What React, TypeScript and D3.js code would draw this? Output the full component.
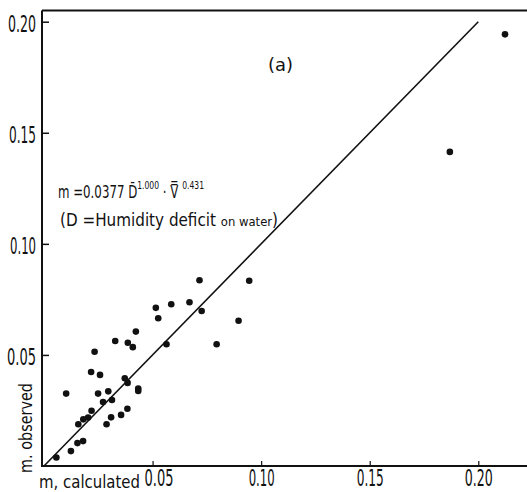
import React, { useEffect, useRef } from 'react';
import * as d3 from 'd3';

// m calculated (x) vs m observed (y)
const calculated = [
  0.2123, 0.1869, 0.0716, 0.0945, 0.0515, 0.0586, 0.0670, 0.0526, 0.0726, 0.0896,
  0.0564, 0.0795, 0.0423, 0.0328, 0.0386, 0.0409, 0.0233, 0.0217, 0.0258, 0.0102,
  0.0372, 0.0385, 0.0434, 0.0434, 0.0249, 0.0296, 0.0272, 0.0313, 0.0219, 0.0384,
  0.0355, 0.0203, 0.0181, 0.0158, 0.0309, 0.0288, 0.0180, 0.0154, 0.0124, 0.0057,
];
const observed = [
  0.1943, 0.1414, 0.0836, 0.0834, 0.0712, 0.0728, 0.0737, 0.0665, 0.0698, 0.0654,
  0.0548, 0.0548, 0.0605, 0.0563, 0.0555, 0.0535, 0.0514, 0.0423, 0.0410, 0.0326,
  0.0395, 0.0374, 0.0349, 0.0338, 0.0326, 0.0336, 0.0288, 0.0297, 0.0249, 0.0258,
  0.0230, 0.0218, 0.0210, 0.0188, 0.0219, 0.0188, 0.0112, 0.0103, 0.0067, 0.0038,
];
const tickValues = [0.05, 0.1, 0.15, 0.2];
const tickLabels = ['0.05', '0.10', '0.15', '0.20'];
const fitLine = [0, 0.2];

const FONT = '"DejaVu Sans", sans-serif';

const App = () => {
  const svgRef = useRef<SVGSVGElement>(null);
  const width = 527;
  const height = 492;

  useEffect(() => {
    const svg = d3.select(svgRef.current);
    svg.selectAll('*').remove();

    const x = d3.scaleLinear().domain([0, 0.2]).range([44, 478.3]);
    const y = d3.scaleLinear().domain([0, 0.2]).range([466, 21.7]);
    const axisX = x(0) - 2;
    const topY = y(0.205);

    // frame: left, bottom, top
    const frame = svg.append('g').attr('stroke', '#111').attr('stroke-width', 2).attr('fill', 'none');
    frame.append('line').attr('x1', axisX).attr('x2', axisX).attr('y1', y(0) + 1).attr('y2', topY);
    frame.append('line').attr('x1', axisX).attr('x2', width).attr('y1', y(0)).attr('y2', y(0));
    frame.append('line').attr('x1', axisX).attr('x2', width).attr('y1', topY).attr('y2', topY);

    const fmt = (d: number) => tickLabels[tickValues.indexOf(d)];
    const widths: Record<string, number> = { '0.05': 29, '0.10': 26, '0.15': 27, '0.20': 28 };

    const gy = svg.append('g')
      .attr('transform', `translate(${axisX},0)`)
      .call(d3.axisLeft(y).tickValues(tickValues).tickSize(-7).tickSizeOuter(0).tickPadding(6).tickFormat(fmt as any));
    gy.select('.domain').remove();
    gy.selectAll('line').attr('stroke', '#111').attr('stroke-width', 1.5);
    gy.selectAll('text')
      .attr('font-family', FONT)
      .attr('font-size', 23)
      .attr('fill', '#111')
      .attr('dy', '0.42em')
      .attr('textLength', (d: any) => widths[fmt(d)])
      .attr('lengthAdjust', 'spacingAndGlyphs');

    const gx = svg.append('g')
      .attr('transform', `translate(0,${y(0)})`)
      .call(d3.axisBottom(x).tickValues(tickValues).tickSize(-5).tickSizeOuter(0).tickPadding(4).tickFormat(fmt as any));
    gx.select('.domain').remove();
    gx.selectAll('line').attr('stroke', '#111').attr('stroke-width', 1.2);
    gx.selectAll('text')
      .attr('font-family', FONT)
      .attr('font-size', 23)
      .attr('fill', '#111')
      .attr('dx', (d: any) => (d === 0.05 ? 6 : 0)) // first label sits a bit right in the scan
      .attr('textLength', (d: any) => widths[fmt(d)])
      .attr('lengthAdjust', 'spacingAndGlyphs');

    // 1:1 line
    svg.append('path')
      .datum(fitLine)
      .attr('fill', 'none')
      .attr('stroke', '#111')
      .attr('stroke-width', 1.6)
      .attr('d', d3.line<number>().x(d => x(d)).y(d => y(d)));

    // points
    svg.append('g')
      .selectAll('circle')
      .data(calculated.map((c, i) => [c, observed[i]]))
      .join('circle')
      .attr('cx', d => x(d[0]))
      .attr('cy', d => y(d[1]))
      .attr('r', 3.3)
      .attr('fill', '#111');

    // axis titles
    svg.append('text')
      .attr('x', 39)
      .attr('y', 488)
      .attr('font-family', FONT)
      .attr('font-size', 17)
      .attr('fill', '#111')
      .attr('textLength', 101)
      .attr('lengthAdjust', 'spacingAndGlyphs')
      .text('m, calculated');

    svg.append('text')
      .attr('transform', 'translate(32,473) rotate(-90)')
      .attr('font-family', FONT)
      .attr('font-size', 17)
      .attr('fill', '#111')
      .attr('textLength', 90)
      .attr('lengthAdjust', 'spacingAndGlyphs')
      .text('m. observed');

    // formula
    const f1 = svg.append('text')
      .attr('x', 58)
      .attr('y', 198)
      .attr('font-family', FONT)
      .attr('font-size', 17)
      .attr('fill', '#111')
      .attr('textLength', 146)
      .attr('lengthAdjust', 'spacingAndGlyphs');
    f1.append('tspan').text('m =0.0377 D\u0304');
    f1.append('tspan').attr('font-size', 11).attr('dy', -9).text('1.000');
    f1.append('tspan').attr('dy', 9).text(' \u00b7 V\u033f ');
    f1.append('tspan').attr('font-size', 11).attr('dy', -9).text('0.431');

    const f2 = svg.append('text')
      .attr('x', 60)
      .attr('y', 226)
      .attr('font-family', FONT)
      .attr('font-size', 17)
      .attr('fill', '#111')
      .attr('textLength', 218)
      .attr('lengthAdjust', 'spacingAndGlyphs');
    f2.append('tspan').text('(D =Humidity deficit ');
    f2.append('tspan').attr('font-size', 13).text('on water');
    f2.append('tspan').text(')');

    svg.append('text')
      .attr('x', 268)
      .attr('y', 71)
      .attr('font-family', FONT)
      .attr('font-size', 17)
      .attr('fill', '#111')
      .attr('textLength', 25)
      .attr('lengthAdjust', 'spacingAndGlyphs')
      .text('(a)');
  }, []);

  return (
    <svg
      ref={svgRef}
      width={width}
      height={height}
      style={{ position: 'absolute', left: 0, top: 0, background: '#fff' }}
    />
  );
};

export default App;
